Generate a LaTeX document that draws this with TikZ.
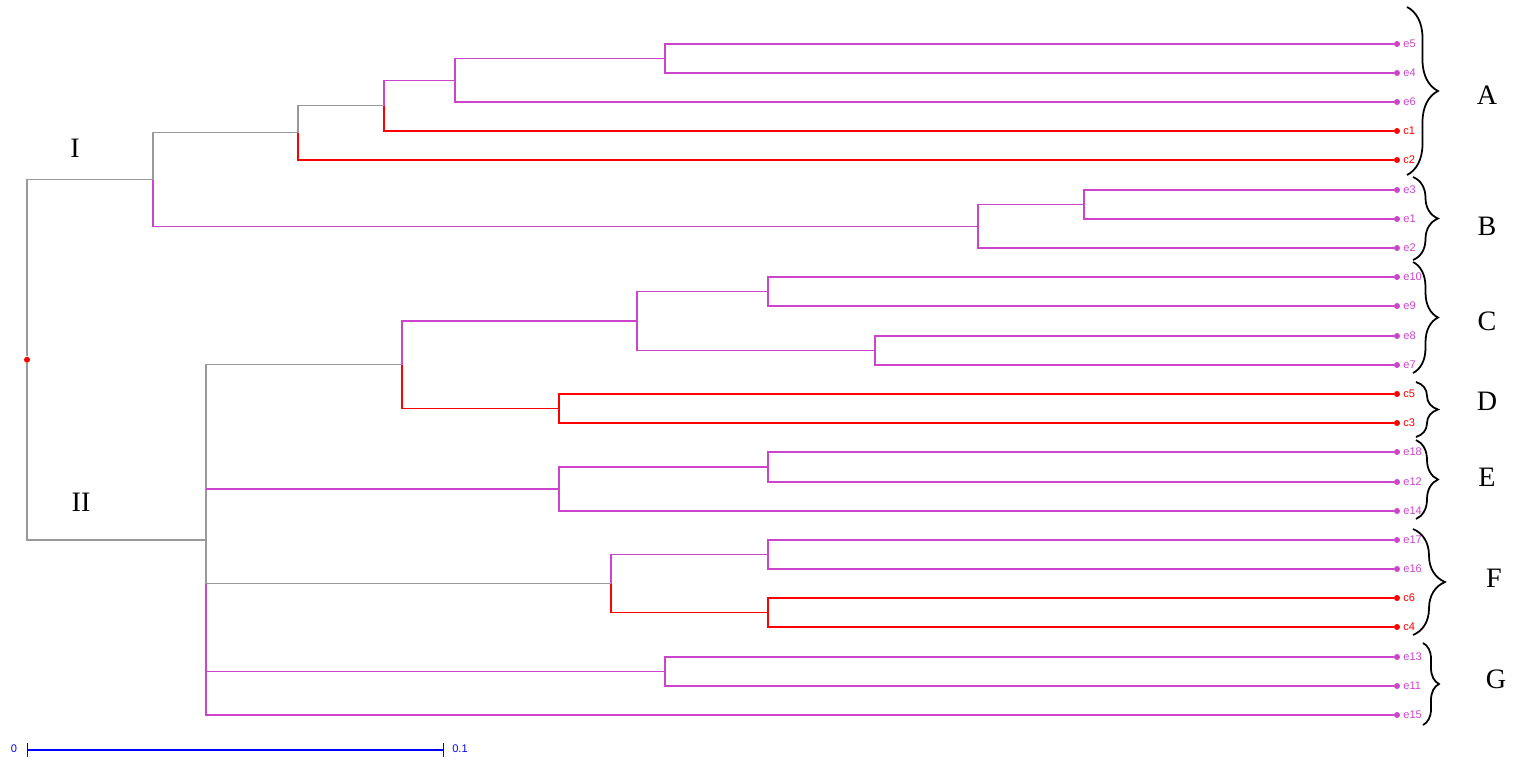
\documentclass[tikz,border=0pt]{standalone}
\usepackage{fontspec}
\setmainfont{Liberation Serif}
\setsansfont{Liberation Sans}
\usetikzlibrary{decorations.pathreplacing,arrows.meta}
\definecolor{treemag}{RGB}{204,68,204}
\definecolor{treegray}{RGB}{153,153,153}
\definecolor{treered}{RGB}{255,0,0}
\definecolor{scaleblue}{RGB}{0,0,255}

\begin{document}
\begin{tikzpicture}[x=0.02cm,y=-0.02cm,
  mline/.style={treemag,line width=0.6pt},
  rline/.style={treered,line width=0.6pt},
  gline/.style={treegray,line width=0.6pt},
  mleaf/.style={circle,fill=treemag,inner sep=0pt,minimum size=0.12cm},
  rleaf/.style={circle,fill=treered,inner sep=0pt,minimum size=0.12cm},
  mtxt/.style={text=treemag,font=\sffamily\fontsize{6.3}{7}\selectfont,inner sep=1.5pt},
  rtxt/.style={text=treered,font=\sffamily\fontsize{6.3}{7}\selectfont,inner sep=1.5pt},
  grp/.style={decorate,decoration={brace,amplitude=#1},line width=1pt},
  grplbl/.style={font=\fontsize{16}{18}\selectfont},
  scl/.style={scaleblue,line width=0.6pt},
  scltxt/.style={text=scaleblue,font=\sffamily\fontsize{6.3}{7}\selectfont}]
\useasboundingbox (0,0) rectangle (1515,761);

\node[mleaf,label={[mtxt]right:e5}] (e5) at (1397,44) {};
\node[mleaf,label={[mtxt]right:e4}] (e4) at (1397,73) {};
\node[mleaf,label={[mtxt]right:e6}] (e6) at (1397,102) {};
\node[rleaf,label={[rtxt]right:c1}] (c1) at (1397,131) {};
\node[rleaf,label={[rtxt]right:c2}] (c2) at (1397,160) {};
\node[mleaf,label={[mtxt]right:e3}] (e3) at (1397,190) {};
\node[mleaf,label={[mtxt]right:e1}] (e1) at (1397,219) {};
\node[mleaf,label={[mtxt]right:e2}] (e2) at (1397,248) {};
\node[mleaf,label={[mtxt]right:e10}] (e10) at (1397,277) {};
\node[mleaf,label={[mtxt]right:e9}] (e9) at (1397,306) {};
\node[mleaf,label={[mtxt]right:e8}] (e8) at (1397,336) {};
\node[mleaf,label={[mtxt]right:e7}] (e7) at (1397,365) {};
\node[rleaf,label={[rtxt]right:c5}] (c5) at (1397,394) {};
\node[rleaf,label={[rtxt]right:c3}] (c3) at (1397,423) {};
\node[mleaf,label={[mtxt]right:e18}] (e18) at (1397,452) {};
\node[mleaf,label={[mtxt]right:e12}] (e12) at (1397,482) {};
\node[mleaf,label={[mtxt]right:e14}] (e14) at (1397,511) {};
\node[mleaf,label={[mtxt]right:e17}] (e17) at (1397,540) {};
\node[mleaf,label={[mtxt]right:e16}] (e16) at (1397,569) {};
\node[rleaf,label={[rtxt]right:c6}] (c6) at (1397,598) {};
\node[rleaf,label={[rtxt]right:c4}] (c4) at (1397,627) {};
\node[mleaf,label={[mtxt]right:e13}] (e13) at (1397,657) {};
\node[mleaf,label={[mtxt]right:e11}] (e11) at (1397,686) {};
\node[mleaf,label={[mtxt]right:e15}] (e15) at (1397,715) {};

\coordinate (n1) at (665,58.5);
\coordinate (n2) at (455,80.25);
\coordinate (n3) at (384,105.6);
\coordinate (n4) at (298,132.8);
\coordinate (n5) at (1084,204.5);
\coordinate (n6) at (978,226.25);
\coordinate (nI) at (153,179.5);
\coordinate (n7) at (768,291.5);
\coordinate (n8) at (875,350.5);
\coordinate (n9) at (637,321);
\coordinate (n10) at (559,408.5);
\coordinate (n11) at (402,364.75);
\coordinate (n12) at (768,467);
\coordinate (n13) at (559,489);
\coordinate (n14) at (768,554.5);
\coordinate (n15) at (768,612.5);
\coordinate (n16) at (611,583.5);
\coordinate (n17) at (665,671.5);
\coordinate (nII) at (206,540);
\node[circle,fill=treered,inner sep=0pt,minimum size=0.12cm] (root) at (27,359.75) {};

\draw[mline] (n1) |- (e5);
\draw[mline] (n1) |- (e4);
\draw[mline] (n2) |- (n1);
\draw[mline] (n2) |- (e6);
\draw[mline] (n3) |- (n2);
\draw[rline] (n3) |- (c1);
\draw[gline] (n4) |- (n3);
\draw[rline] (n4) |- (c2);
\draw[mline] (n5) |- (e3);
\draw[mline] (n5) |- (e1);
\draw[mline] (n6) |- (n5);
\draw[mline] (n6) |- (e2);
\draw[gline] (nI) |- (n4);
\draw[mline] (nI) |- (n6);
\draw[mline] (n7) |- (e10);
\draw[mline] (n7) |- (e9);
\draw[mline] (n8) |- (e8);
\draw[mline] (n8) |- (e7);
\draw[mline] (n9) |- (n7);
\draw[mline] (n9) |- (n8);
\draw[rline] (n10) |- (c5);
\draw[rline] (n10) |- (c3);
\draw[mline] (n11) |- (n9);
\draw[rline] (n11) |- (n10);
\draw[mline] (n12) |- (e18);
\draw[mline] (n12) |- (e12);
\draw[mline] (n13) |- (n12);
\draw[mline] (n13) |- (e14);
\draw[mline] (n14) |- (e17);
\draw[mline] (n14) |- (e16);
\draw[rline] (n15) |- (c6);
\draw[rline] (n15) |- (c4);
\draw[mline] (n16) |- (n14);
\draw[rline] (n16) |- (n15);
\draw[mline] (n17) |- (e13);
\draw[mline] (n17) |- (e11);
\draw[gline] (nII) |- (n11);
\draw[gline] (nII) |- (n16);
\draw[mline] (nII |- n13) -- (n13);
\draw[mline] (nII |- n16) |- (e15);
\draw[mline] (nII |- n17) -- (n17);
\draw[gline] (root) |- (nI);
\draw[gline] (root) |- (nII);

\node[grplbl] (lI) at (75,148) {I};
\node[grplbl] (lII) at (81,502) {II};

\coordinate (bA1) at (1407,7);
\coordinate (bA2) at (1407,175);
\coordinate (bB1) at (1413,177);
\coordinate (bB2) at (1413,260);
\coordinate (bC1) at (1413,262);
\coordinate (bC2) at (1413,373);
\coordinate (bD1) at (1416,382);
\coordinate (bD2) at (1416,437);
\coordinate (bE1) at (1416,440);
\coordinate (bE2) at (1416,519);
\coordinate (bF1) at (1413,529);
\coordinate (bF2) at (1413,635);
\coordinate (bG1) at (1423,643);
\coordinate (bG2) at (1423,725);
\draw[grp=0.62cm] (bA1) -- (bA2);
\draw[grp=0.5cm] (bB1) -- (bB2);
\draw[grp=0.5cm] (bC1) -- (bC2);
\draw[grp=0.44cm] (bD1) -- (bD2);
\draw[grp=0.44cm] (bE1) -- (bE2);
\draw[grp=0.64cm] (bF1) -- (bF2);
\draw[grp=0.32cm] (bG1) -- (bG2);
\node[grplbl] (lA) at (1487,95) {A};
\node[grplbl] (lB) at (1487,226) {B};
\node[grplbl] (lC) at (1487,321) {C};
\node[grplbl] (lD) at (1487,401) {D};
\node[grplbl] (lE) at (1487,477) {E};
\node[grplbl] (lF) at (1494,578) {F};
\node[grplbl] (lG) at (1496,679) {G};

\coordinate (sb0) at (27,750);
\coordinate (sb1) at (444,750);
\draw[scl,{Bar[width=0.28cm]}-{Bar[width=0.28cm]}] (sb0) -- (sb1);
\node[scltxt] (sc0) at (14,749) {0};
\node[scltxt] (sc1) at (460,749) {0.1};
\end{tikzpicture}
\end{document}
